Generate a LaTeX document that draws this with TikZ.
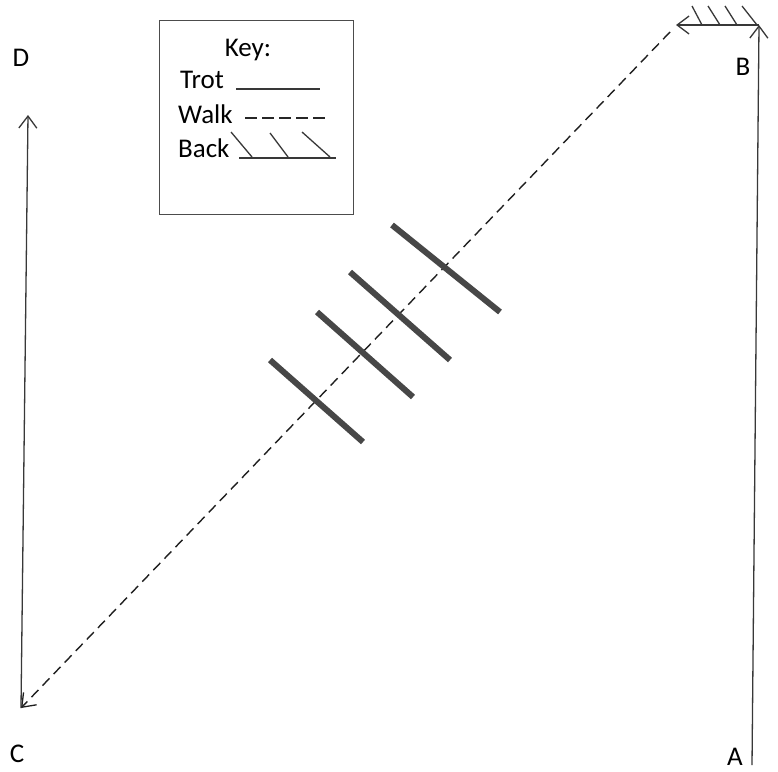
\documentclass[tikz,border=0pt]{standalone}
\usepackage{fontspec}
\setmainfont{Carlito}
\usetikzlibrary{arrows.meta}
\begin{document}
\begin{tikzpicture}[x=1pt,y=-1pt,
  thinline/.style={draw=black!78, line width=1.3pt},
  walkline/.style={draw=black!88, line width=1.4pt, dash pattern=on 10pt off 6pt},
  pole/.style={draw=black!72, line width=6pt},
  barb/.style={-{Straight Barb[length=12pt,width=18pt,line width=1.3pt]}},
  lbl/.style={font=\fontsize{27}{29}\selectfont, inner sep=0pt},
  keytxt/.style={font=\fontsize{27}{29}\selectfont, inner sep=0pt, anchor=base west}]
\useasboundingbox[fill=white] (0,0) rectangle (778,771);
% key box
\node[draw=black!70, line width=1.3pt, minimum width=194pt, minimum height=194pt, anchor=north west] (keybox) at (159,20) {};
\node[lbl, anchor=base] (keyt) at (248,56) {Key:};
\node[keytxt] (trot) at (180,88) {Trot};
\node[keytxt] (walk) at (178,123) {Walk};
\node[keytxt] (back) at (178,157) {Back};
\coordinate (t1) at (236,89); \coordinate (t2) at (320,89);
\draw[thinline] (t1) -- (t2);
\coordinate (w1) at (245,118); \coordinate (w2) at (326,118);
\draw[draw=black!85, line width=1.3pt, dash pattern=on 12pt off 5pt] (w1) -- (w2);
\coordinate (b1) at (239,158); \coordinate (b2) at (336,158);
\draw[thinline] (b1) -- (b2);
\draw[thinline] (231,132) -- (252,157);
\draw[thinline] (270,133) -- (288,157);
\draw[thinline] (302,132) -- (330,157);
% corner labels
\node[lbl] (A) at (735,757) {A};
\node[lbl] (B) at (743,67) {B};
\node[lbl] (C) at (17,754) {C};
\node[lbl] (D) at (21,58) {D};
% path points
\coordinate (pA) at (752,765);
\coordinate (pB) at (759,25);
\coordinate (pBl) at (676,25);
\coordinate (pWs) at (670,32);
\coordinate (pC) at (21,708);
\coordinate (pD) at (28,115);
% A -> B (trot)
\draw[thinline, barb] (pA) -- (pB);
% B -> left (back) with hatching
\draw[thinline, barb] (pB) -- (pBl);
\draw[thinline] (692,6) -- (702,25);
\draw[thinline] (708,6) -- (720,25);
\draw[thinline] (725,6) -- (737,25);
\draw[thinline] (742,6) -- (757,25);
% walk diagonal to C
\draw[walkline, barb] (pWs) -- (pC);
% C -> D (trot)
\draw[thinline, barb] (pC) -- (pD);
% poles
\draw[pole] (392,225) -- (500,312);
\draw[pole] (350,272) -- (450,360);
\draw[pole] (317,312) -- (413,397);
\draw[pole] (270,360) -- (363,442);
\end{tikzpicture}
\end{document}
